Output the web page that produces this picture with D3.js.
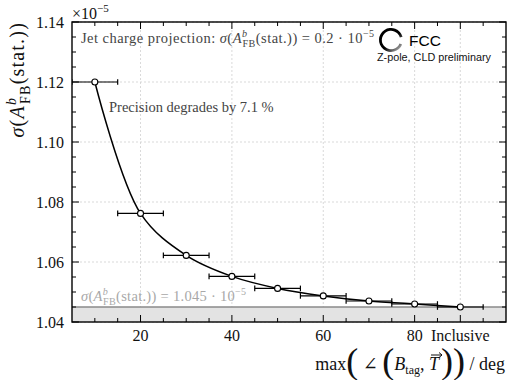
<!DOCTYPE html>
<html>
<head>
<meta charset="utf-8">
<script src="https://cdn.jsdelivr.net/npm/d3@7"></script>
<style>
  html, body { margin: 0; padding: 0; background: #fff; }
  svg { display: block; }
  .serif { font-family: "Liberation Serif", "DejaVu Serif", serif; }
  .sans { font-family: "Liberation Sans", Arial, sans-serif; }
</style>
</head>
<body>
<svg id="chart" width="507" height="380"></svg>
<script>
// ---- data ----
const angleCut = [10, 20, 30, 40, 50, 60, 70, 80, 90];
const sigmaStat = [1.1200, 1.0762, 1.0622, 1.0552, 1.0512, 1.0487, 1.0470, 1.0460, 1.0450];
const angleErr = [5, 5, 5, 5, 5, 5, 5, 5, 5];
const inclusiveSigma = [1.045];
const xTickValues = [20, 40, 60, 80, 90];
const xTickLabels = ["20", "40", "60", "80", "Inclusive"];
const yTickValues = [1.04, 1.06, 1.08, 1.10, 1.12, 1.14];
const yTickLabels = ["1.04", "1.06", "1.08", "1.10", "1.12", "1.14"];

// ---- layout ----
const m = { left: 72, right: 506, top: 22, bottom: 322 };
const svg = d3.select("#chart");
const x = d3.scaleLinear().domain([5, 100]).range([m.left, m.right]);
const y = d3.scaleLinear().domain([1.04, 1.14]).range([m.bottom, m.top]);

const defs = svg.append("defs");
defs.append("clipPath").attr("id", "plotclip")
  .append("rect").attr("x", m.left).attr("y", m.top)
  .attr("width", m.right - m.left).attr("height", m.bottom - m.top);

// grid
const grid = svg.append("g").attr("stroke", "#cfcfcf").attr("stroke-width", 0.8)
  .attr("stroke-dasharray", "2,2");
xTickValues.forEach(v => grid.append("line")
  .attr("x1", x(v)).attr("x2", x(v)).attr("y1", m.top).attr("y2", m.bottom));
yTickValues.forEach(v => grid.append("line")
  .attr("x1", m.left).attr("x2", m.right).attr("y1", y(v)).attr("y2", y(v)));

// inclusive band
const plot = svg.append("g").attr("clip-path", "url(#plotclip)");
plot.append("rect").attr("x", m.left).attr("width", m.right - m.left)
  .attr("y", y(inclusiveSigma[0])).attr("height", y(1.04) - y(inclusiveSigma[0]))
  .attr("fill", "#e3e3e3");
plot.append("line").attr("x1", m.left).attr("x2", m.right)
  .attr("y1", y(inclusiveSigma[0])).attr("y2", y(inclusiveSigma[0]))
  .attr("stroke", "#8a8a8a").attr("stroke-width", 1.6);

const pts = angleCut.map((a, i) => ({ a, s: sigmaStat[i], e: angleErr[i] }));

// error bars
const eb = plot.append("g").attr("stroke", "#000").attr("stroke-width", 1.2);
pts.forEach(p => {
  eb.append("line").attr("x1", x(p.a - p.e)).attr("x2", x(p.a + p.e))
    .attr("y1", y(p.s)).attr("y2", y(p.s));
  [p.a - p.e, p.a + p.e].forEach(v => eb.append("line")
    .attr("x1", x(v)).attr("x2", x(v)).attr("y1", y(p.s) - 2.8).attr("y2", y(p.s) + 2.8));
});

// curve
plot.append("path").datum(pts)
  .attr("d", d3.line().x(d => x(d.a)).y(d => y(d.s)).curve(d3.curveCatmullRom.alpha(0.5)))
  .attr("fill", "none").attr("stroke", "#000").attr("stroke-width", 1.5);

// markers
plot.selectAll("circle.pt").data(pts).enter().append("circle")
  .attr("cx", d => x(d.a)).attr("cy", d => y(d.s)).attr("r", 3)
  .attr("fill", "#fff").attr("stroke", "#000").attr("stroke-width", 1.1);

// frame
svg.append("rect").attr("x", m.left).attr("y", m.top)
  .attr("width", m.right - m.left).attr("height", m.bottom - m.top)
  .attr("fill", "none").attr("stroke", "#000").attr("stroke-width", 1.4);

// ticks (inward, all sides)
const tk = svg.append("g").attr("stroke", "#000").attr("stroke-width", 1);
const xMinor = d3.range(10, 100, 5).filter(v => !xTickValues.includes(v));
const yMinor = d3.range(1.045, 1.14, 0.005).filter(v => !yTickValues.some(t => Math.abs(t - v) < 1e-6));
function xt(v, len) {
  tk.append("line").attr("x1", x(v)).attr("x2", x(v)).attr("y1", m.bottom).attr("y2", m.bottom - len);
  tk.append("line").attr("x1", x(v)).attr("x2", x(v)).attr("y1", m.top).attr("y2", m.top + len);
}
function yt(v, len) {
  tk.append("line").attr("y1", y(v)).attr("y2", y(v)).attr("x1", m.left).attr("x2", m.left + len);
  tk.append("line").attr("y1", y(v)).attr("y2", y(v)).attr("x1", m.right).attr("x2", m.right - len);
}
xTickValues.forEach(v => xt(v, 7));
xMinor.forEach(v => xt(v, 4));
yTickValues.forEach(v => yt(v, 7));
yMinor.forEach(v => yt(v, 4));

// tick labels
const lab = svg.append("g").attr("class", "serif").attr("font-size", 16).attr("fill", "#111");
xTickValues.forEach((v, i) => lab.append("text").attr("x", x(v)).attr("y", 341)
  .attr("text-anchor", "middle").text(xTickLabels[i]));
yTickValues.forEach((v, i) => lab.append("text").attr("x", 64).attr("y", y(v) + 5.5)
  .attr("text-anchor", "end").text(yTickLabels[i]));

// offset text ×10^-5
const off = svg.append("text").attr("class", "serif").attr("x", 72).attr("y", 19)
  .attr("font-size", 16).attr("fill", "#111");
off.append("tspan").text("×10");
off.append("tspan").attr("font-size", 11).attr("dy", -7).text("−5");

// helper for sigma(A^b_FB(stat.)) formula
function sigmaA(t, fs) {
  const sub = fs * 0.7;
  t.append("tspan").attr("font-style", "italic").text("σ");
  t.append("tspan").text("(");
  t.append("tspan").attr("font-style", "italic").text("A");
  t.append("tspan").attr("font-style", "italic").attr("font-size", sub).attr("dy", -fs * 0.42).text("b");
  t.append("tspan").attr("font-size", sub).attr("dx", -sub * 0.5).attr("dy", fs * 0.7).text("FB");
  t.append("tspan").attr("dy", -fs * 0.28).text("(stat.))");
}

// y axis label
const yl = svg.append("text").attr("class", "serif")
  .attr("transform", `translate(24,${m.top}) rotate(-90)`)
  .attr("text-anchor", "end").attr("font-size", 20).attr("fill", "#111")
  .attr("letter-spacing", 1.2);
sigmaA(yl, 20);

// x axis label
const xl = svg.append("text").attr("class", "serif").attr("x", 505).attr("y", 370)
  .attr("text-anchor", "end").attr("font-size", 18).attr("fill", "#111");
xl.append("tspan").text("max");
xl.append("tspan").attr("font-size", 36).attr("dy", 3).text("(");
xl.append("tspan").attr("dy", -3).text(" ∠ ");
xl.append("tspan").attr("font-size", 36).attr("dy", 3).text("(");
xl.append("tspan").attr("dy", -3).attr("font-style", "italic").text("B");
xl.append("tspan").attr("font-size", 12).attr("dy", 4).text("tag");
xl.append("tspan").attr("dy", -4).text(", ");
const tVec = xl.append("tspan").attr("font-style", "italic").text("T");
xl.append("tspan").attr("font-size", 36).attr("dy", 3).attr("dx", 2).text("))");
xl.append("tspan").attr("dy", -3).text(" / deg");
// vector arrow over T
const tb = tVec.node().getBBox();
const ax0 = tb.x + 2, ax1 = tb.x + tb.width + 1, ay = tb.y + 1;
svg.append("path")
  .attr("d", `M${ax0},${ay} L${ax1},${ay} M${ax1 - 3},${ay - 2.5} L${ax1},${ay} L${ax1 - 3},${ay + 2.5}`)
  .attr("fill", "none").attr("stroke", "#111").attr("stroke-width", 1);

// annotations
const a1 = svg.append("text").attr("class", "serif").attr("x", 81).attr("y", 43)
  .attr("font-size", 14.5).attr("fill", "#444")
  .attr("textLength", 293).attr("lengthAdjust", "spacing");
a1.append("tspan").text("Jet charge projection: ");
sigmaA(a1, 14.5);
a1.append("tspan").text(" = 0.2 · 10");
a1.append("tspan").attr("font-size", 10).attr("dy", -6).text("−5");

svg.append("text").attr("class", "serif").attr("x", 109).attr("y", 112)
  .attr("font-size", 14.5).attr("fill", "#444")
  .text("Precision degrades by 7.1 %");

const a3 = svg.append("text").attr("class", "serif").attr("x", 81).attr("y", 301)
  .attr("font-size", 14.5).attr("fill", "#a8a8a8")
  .attr("textLength", 165).attr("lengthAdjust", "spacing");
sigmaA(a3, 14.5);
a3.append("tspan").text(" = 1.045 · 10");
a3.append("tspan").attr("font-size", 10).attr("dy", -6).text("−5");

// FCC logo
const grad = defs.append("linearGradient").attr("id", "ringgrad")
  .attr("x1", "0%").attr("y1", "0%").attr("x2", "100%").attr("y2", "100%");
grad.append("stop").attr("offset", "0%").attr("stop-color", "#000");
grad.append("stop").attr("offset", "55%").attr("stop-color", "#000");
grad.append("stop").attr("offset", "100%").attr("stop-color", "#e0e0e0");
svg.append("path").attr("transform", "translate(391,40)")
  .attr("d", d3.arc().innerRadius(9.2).outerRadius(12).startAngle(1.95).endAngle(2 * Math.PI + 1.3)())
  .attr("fill", "url(#ringgrad)");
svg.append("text").attr("class", "sans").attr("x", 409).attr("y", 46).attr("font-size", 15.5)
  .attr("fill", "#000").text("FCC");
svg.append("text").attr("class", "sans").attr("x", 377).attr("y", 60.5).attr("font-size", 10.8)
  .attr("fill", "#111").text("Z-pole, CLD preliminary");
</script>
</body>
</html>
